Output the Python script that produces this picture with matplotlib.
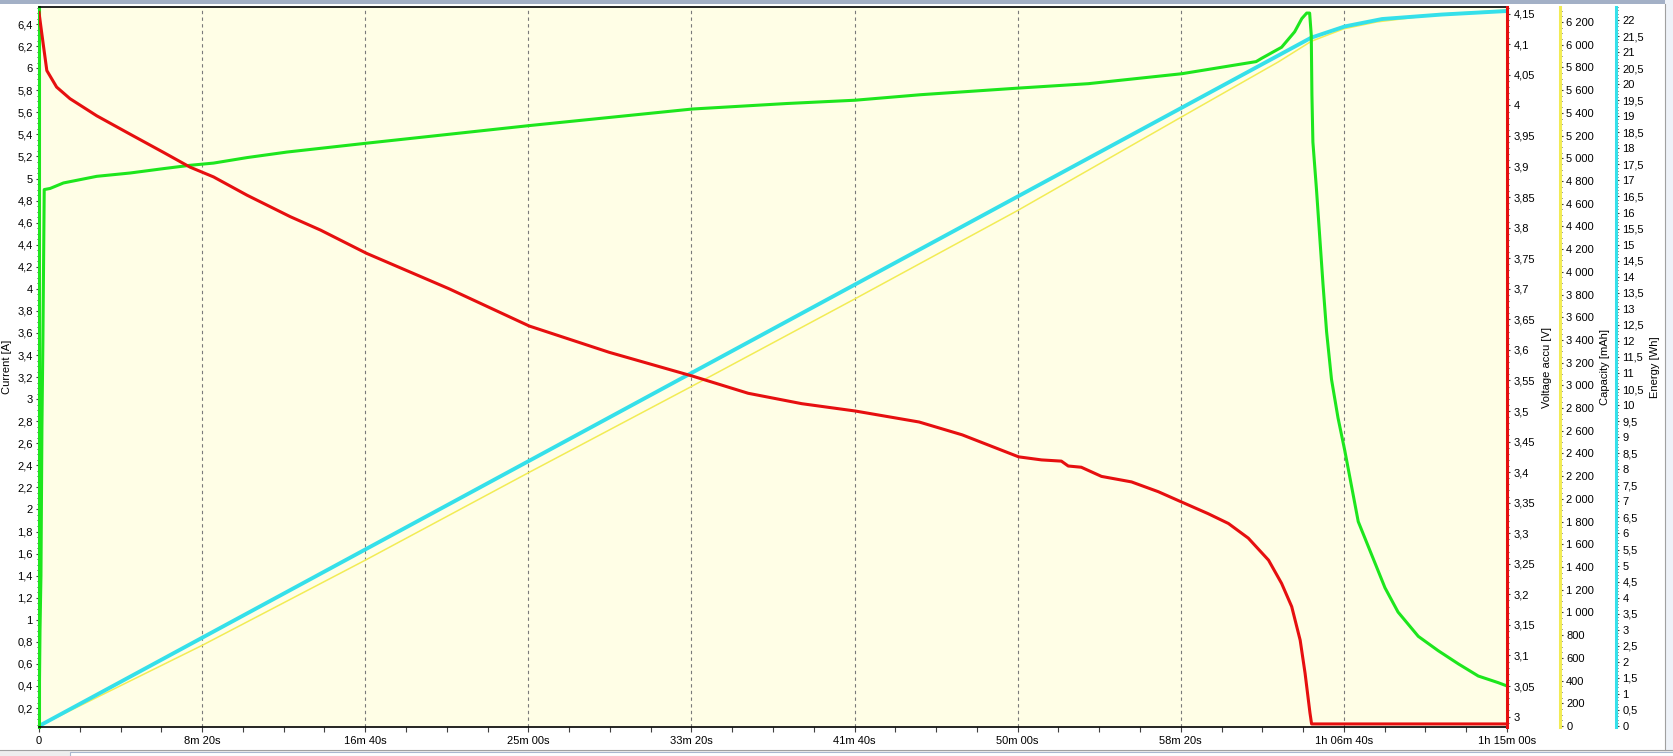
import matplotlib
matplotlib.use('Agg')
import matplotlib.pyplot as plt
from matplotlib.ticker import MultipleLocator, FixedLocator, FuncFormatter
from matplotlib.patches import Rectangle

# time axis (seconds)
time_ticks = [0, 500, 1000, 1500, 2000, 2500, 3000, 3500, 4000, 4500]

# current [A] (green)
cur_t = [0, 3, 6, 9, 12, 16, 34, 75, 177, 279, 382, 463, 535, 638, 760,
         1003, 1503, 2002, 2292, 2502, 2703, 3003, 3217, 3503, 3731, 3748,
         3809, 3849, 3871, 3886, 3895, 3900, 3902, 3905, 3916, 3926, 3936,
         3947, 3962, 3982, 4003, 4044, 4085, 4126, 4166, 4228, 4289, 4351,
         4412, 4473, 4500]
cur_a = [0.03, 0.9, 1.4, 2.75, 3.55, 4.9, 4.91, 4.96, 5.02, 5.05, 5.09, 5.12,
         5.14, 5.19, 5.24, 5.32, 5.48, 5.63, 5.68, 5.71, 5.76, 5.82, 5.86,
         5.95, 6.06, 6.09, 6.19, 6.33, 6.45, 6.50, 6.50, 6.30, 5.76, 5.33,
         4.90, 4.47, 4.04, 3.61, 3.18, 2.83, 2.53, 1.89, 1.59, 1.29, 1.07,
         0.85, 0.72, 0.60, 0.49, 0.43, 0.40]

# battery voltage [V] (red)
volt_t = [0, 13, 24, 54, 95, 177, 279, 382, 463, 535, 638, 770, 863, 1004,
          1257, 1503, 1748, 2004, 2174, 2338, 2502, 2698, 2830, 3003, 3073,
          3134, 3155, 3195, 3257, 3349, 3431, 3503, 3584, 3646, 3707, 3769,
          3809, 3840, 3866, 3881, 3896, 3901, 4500]
volt_v = [4.152, 4.100, 4.057, 4.030, 4.011, 3.983, 3.953, 3.923, 3.899,
          3.883, 3.853, 3.818, 3.796, 3.758, 3.700, 3.639, 3.596, 3.557,
          3.529, 3.512, 3.500, 3.482, 3.461, 3.425, 3.420, 3.418, 3.410,
          3.408, 3.393, 3.384, 3.368, 3.351, 3.332, 3.316, 3.292, 3.256,
          3.218, 3.180, 3.125, 3.071, 3.006, 2.988, 2.988]

# capacity [mAh] (yellow)
cap_t = [0, 500, 1000, 1500, 2000, 2500, 3000, 3500, 3800, 3900, 4000, 4100,
         4300, 4500]
cap_mah = [0, 710, 1460, 2230, 2990, 3760, 4540, 5360, 5850, 6030, 6140,
           6200, 6270, 6305]

# energy [Wh] (cyan)
en_t = [0, 1000, 2000, 3000, 3900, 3950, 4003, 4117, 4300, 4500]
en_wh = [0, 5.5, 11.0, 16.5, 21.45, 21.62, 21.80, 22.03, 22.17, 22.28]

BG = '#fffee6'
GREEN = '#1de61d'
RED = '#e60f0f'
CYAN = '#35e0ea'
YELLOW = '#f2ec55'
TICK = '#404040'

plt.rcParams['font.family'] = ['Liberation Sans', 'DejaVu Sans']
plt.rcParams['font.size'] = 8

W, H = 1674, 756
fig = plt.figure(figsize=(W / 100, H / 100), dpi=100)
fig.patch.set_facecolor('white')


def box(x0, y0, x1, y1):
    return [x0 / W, 1 - y1 / H, (x1 - x0) / W, (y1 - y0) / H]


# window frame bits from the screenshot
fig.patches.append(Rectangle((0, 1 - 4 / H), 1, 4 / H, transform=fig.transFigure,
                             facecolor='#a3b0c6', edgecolor='none'))
fig.patches.append(Rectangle((1665 / W, 4 / H), 9 / W, 1, transform=fig.transFigure,
                             facecolor='#eef2f8', edgecolor='none'))
fig.patches.append(Rectangle((0, 0), 1, 6 / H, transform=fig.transFigure,
                             facecolor='#eeeeee', edgecolor='none'))
fig.patches.append(Rectangle((70 / W, 0), 1, 4 / H, transform=fig.transFigure,
                             facecolor='white', edgecolor='#a9b8cf', lw=0.8))
fig.lines.append(plt.Line2D([0, 1], [6 / H, 6 / H], transform=fig.transFigure,
                            color='#a0a0a0', lw=0.8))
fig.lines.append(plt.Line2D([1665 / W, 1665 / W], [6 / H, 1 - 4 / H],
                            transform=fig.transFigure, color='#a0a0a0', lw=0.8))

ax = fig.add_axes(box(39, 7, 1507, 727))
axC = ax.twinx()
axE = ax.twinx()
axV = ax.twinx()

axC.set_zorder(1)
axE.set_zorder(2)
ax.set_zorder(3)
axV.set_zorder(4)
axC.patch.set_visible(True)
axC.patch.set_facecolor(BG)
ax.patch.set_visible(False)

ax.set_xlim(0, 4500)

# vertical dashed grid
for t in time_ticks[1:]:
    axC.axvline(t, color='#7a7a7a', lw=0.8, ls=(0, (3, 3)), zorder=0.5)

axC.plot(cap_t, cap_mah, color=YELLOW, lw=1.1)
axE.plot(en_t, en_wh, color=CYAN, lw=2.8)
ax.plot(cur_t, cur_a, color=GREEN, lw=2.2)
axV.plot(volt_t, volt_v, color=RED, lw=2.2)

ax.set_ylim(0.028, 6.555)
axV.set_ylim(2.983, 4.161)
axC.set_ylim(-8.8, 6332)
axE.set_ylim(-0.031, 22.405)


def comma(v, pos):
    s = f"{v:.2f}".rstrip('0').rstrip('.')
    return s.replace('.', ',')


def thousands(v, pos):
    return f"{int(round(v)):,}".replace(',', ' ')


def hms(v, pos):
    t = int(round(v))
    if t == 0:
        return '0'
    h, m, s = t // 3600, (t % 3600) // 60, t % 60
    if h:
        return f"{h}h {m:02d}m {s:02d}s"
    return f"{m}m {s:02d}s"


ax.xaxis.set_major_locator(FixedLocator(time_ticks))
ax.xaxis.set_minor_locator(MultipleLocator(125))
ax.xaxis.set_major_formatter(FuncFormatter(hms))
ax.tick_params(axis='x', which='both', direction='out', length=3.5, width=0.8,
               color=TICK, pad=3, labelsize=8)

ax.yaxis.set_major_locator(MultipleLocator(0.2))
ax.yaxis.set_minor_locator(MultipleLocator(0.05))
ax.yaxis.set_major_formatter(FuncFormatter(comma))

axV.yaxis.set_major_locator(MultipleLocator(0.05))
axV.yaxis.set_minor_locator(MultipleLocator(0.01))
axV.yaxis.set_major_formatter(FuncFormatter(comma))

axC.yaxis.set_major_locator(MultipleLocator(200))
axC.yaxis.set_minor_locator(MultipleLocator(50))
axC.yaxis.set_major_formatter(FuncFormatter(thousands))

axE.yaxis.set_major_locator(MultipleLocator(0.5))
axE.yaxis.set_minor_locator(MultipleLocator(0.1))
axE.yaxis.set_major_formatter(FuncFormatter(comma))

for a in (ax, axV, axC, axE):
    a.tick_params(axis='y', which='major', direction='out', length=2.5,
                  width=0.8, color=TICK, pad=2, labelsize=8)
    a.tick_params(axis='y', which='minor', direction='out', length=1.3,
                  width=0.7, color=TICK)

# spines
ax.spines['left'].set_color(GREEN)
ax.spines['left'].set_linewidth(2.2)
ax.spines['top'].set_color('black')
ax.spines['top'].set_linewidth(1.2)
ax.spines['bottom'].set_color('black')
ax.spines['bottom'].set_linewidth(1.2)
ax.spines['right'].set_visible(False)

for a, col, pos in ((axV, RED, 1.0), (axC, YELLOW, 1.0361), (axE, CYAN, 1.0743)):
    for side in ('left', 'top', 'bottom'):
        a.spines[side].set_visible(False)
    a.spines['right'].set_position(('axes', pos))
    a.spines['right'].set_color(col)
    a.spines['right'].set_linewidth(2.2)

# axis titles
fig.text(7 / W, 1 - 367 / H, 'Current [A]', rotation=90, ha='center', va='center')
fig.text(1547 / W, 1 - 367 / H, 'Voltage accu [V]', rotation=90, ha='center', va='center')
fig.text(1605 / W, 1 - 367 / H, 'Capacity [mAh]', rotation=90, ha='center', va='center')
fig.text(1655 / W, 1 - 367 / H, 'Energy [Wh]', rotation=90, ha='center', va='center')

fig.savefig('out.png', dpi=100, facecolor=fig.get_facecolor())
